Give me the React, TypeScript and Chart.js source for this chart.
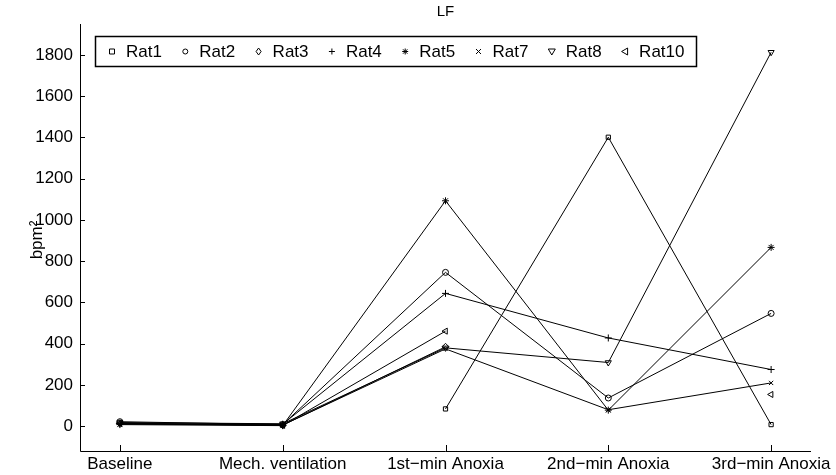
import React, { useEffect, useRef } from "react";
import { Chart, registerables } from "chart.js";

Chart.register(...registerables);

const categories = ["Baseline", "Mech. ventilation", "1st\u2212min Anoxia", "2nd\u2212min Anoxia", "3rd\u2212min Anoxia"];
const yTickValues = [0, 200, 400, 600, 800, 1000, 1200, 1400, 1600, 1800];

const rat1 = [null, null, 84, 1401, 8];
const rat2 = [22, 8, 746, 137, 547];
const rat3 = [15, 5, 385, null, null];
const rat4 = [12, 10, 644, 428, 275];
const rat5 = [8, 3, 1093, 78, 867];
const rat7 = [10, 6, 375, 80, 210];
const rat8 = [18, 12, 380, 309, 1813];
const rat10 = [14, 4, 461, null, 154];

const seriesNames = ["Rat1", "Rat2", "Rat3", "Rat4", "Rat5", "Rat7", "Rat8", "Rat10"];
const seriesValues = [rat1, rat2, rat3, rat4, rat5, rat7, rat8, rat10];
const markers = ["rect", "circle", "rectRot", "cross", "star", "crossRot", "triangle", "triangle"];
const rotations = [0, 0, 0, 0, 0, 0, 180, -90];
const radii = [3, 3, 3.5, 3.5, 3.5, 3, 3.5, 3.5];

const FONT = "'Liberation Sans', Arial, Helvetica, sans-serif";

function drawMarker(ctx: CanvasRenderingContext2D, kind: number, x: number, y: number) {
  ctx.beginPath();
  const r = 2.5;
  switch (kind) {
    case 0:
      ctx.rect(x - r, y - r, 2 * r, 2 * r);
      break;
    case 1:
      ctx.arc(x, y, r, 0, Math.PI * 2);
      break;
    case 2:
      ctx.moveTo(x, y - 3.5); ctx.lineTo(x + 2.5, y); ctx.lineTo(x, y + 3.5); ctx.lineTo(x - 2.5, y); ctx.closePath();
      break;
    case 3:
      ctx.moveTo(x - 3, y); ctx.lineTo(x + 3, y); ctx.moveTo(x, y - 3); ctx.lineTo(x, y + 3);
      break;
    case 4:
      ctx.moveTo(x - 3, y); ctx.lineTo(x + 3, y); ctx.moveTo(x, y - 3); ctx.lineTo(x, y + 3);
      ctx.moveTo(x - 2.2, y - 2.2); ctx.lineTo(x + 2.2, y + 2.2); ctx.moveTo(x - 2.2, y + 2.2); ctx.lineTo(x + 2.2, y - 2.2);
      break;
    case 5:
      ctx.moveTo(x - 2.5, y - 2.5); ctx.lineTo(x + 2.5, y + 2.5); ctx.moveTo(x - 2.5, y + 2.5); ctx.lineTo(x + 2.5, y - 2.5);
      break;
    case 6:
      ctx.moveTo(x - 3.5, y - 2.5); ctx.lineTo(x + 3.5, y - 2.5); ctx.lineTo(x, y + 3.5); ctx.closePath();
      break;
    case 7:
      ctx.moveTo(x + 2.5, y - 3.5); ctx.lineTo(x + 2.5, y + 3.5); ctx.lineTo(x - 3.5, y); ctx.closePath();
      break;
  }
  ctx.stroke();
}

const matlabPlugin = {
  id: "matlabDecor",
  afterDraw(chart: any) {
    const ctx: CanvasRenderingContext2D = chart.ctx;
    const { left, right, top, bottom } = chart.chartArea;
    const xs = chart.scales.x;
    const ys = chart.scales.y;
    ctx.save();
    ctx.strokeStyle = "#000";
    ctx.lineWidth = 1;
    // axes lines
    ctx.beginPath();
    ctx.moveTo(Math.round(left) + 0.5, top);
    ctx.lineTo(Math.round(left) + 0.5, Math.round(bottom) + 0.5);
    ctx.lineTo(right, Math.round(bottom) + 0.5);
    ctx.stroke();
    // inward ticks
    ctx.beginPath();
    yTickValues.forEach((v) => {
      const py = Math.round(ys.getPixelForValue(v)) + 0.5;
      ctx.moveTo(left, py);
      ctx.lineTo(left + 5, py);
    });
    categories.forEach((_, i) => {
      const px = Math.round(xs.getPixelForValue(i)) + 0.5;
      ctx.moveTo(px, bottom);
      ctx.lineTo(px, bottom - 6);
    });
    ctx.stroke();
    // title
    ctx.fillStyle = "#000";
    ctx.font = `15px ${FONT}`;
    ctx.textAlign = "center";
    ctx.textBaseline = "middle";
    ctx.fillText("LF", (left + right) / 2, 12);
    // y title
    ctx.save();
    ctx.translate(37, 240);
    ctx.rotate(-Math.PI / 2);
    ctx.font = `17px ${FONT}`;
    ctx.fillText("bpm\u00B2", 0, 0);
    ctx.restore();
    // legend
    const bx = 95.5, by = 36.5, bw = 601, bh = 30;
    ctx.fillStyle = "#fff";
    ctx.fillRect(bx, by, bw, bh);
    ctx.lineWidth = 1.5;
    ctx.strokeRect(bx, by, bw, bh);
    ctx.lineWidth = 1;
    ctx.font = `17px ${FONT}`;
    ctx.textAlign = "left";
    ctx.fillStyle = "#000";
    const cy = by + bh / 2;
    seriesNames.forEach((name, i) => {
      const mx = 112 + i * 73.3;
      drawMarker(ctx, i, mx, cy);
      ctx.fillText(name, mx + 14, cy + 1);
    });
    ctx.restore();
  },
};

export default function App() {
  const ref = useRef<HTMLCanvasElement | null>(null);
  useEffect(() => {
    if (!ref.current) return;
    const datasets = seriesNames.map((name, i) => ({
      label: name,
      data: seriesValues[i].map((v, j) => ({ x: j, y: v })),
      borderColor: "#000",
      borderWidth: 1,
      backgroundColor: "transparent",
      pointStyle: markers[i] as any,
      pointRotation: rotations[i],
      pointRadius: radii[i],
      pointBorderColor: "#000",
      pointBackgroundColor: "transparent",
      pointBorderWidth: 1,
      spanGaps: false,
      tension: 0,
    }));
    const chart = new Chart(ref.current, {
      type: "line",
      data: { datasets },
      plugins: [matlabPlugin],
      options: {
        animation: false,
        responsive: false,
        devicePixelRatio: 1,
        layout: { padding: { top: 24, right: 25, left: 0, bottom: 0 } },
        plugins: { legend: { display: false }, tooltip: { enabled: false }, title: { display: false } },
        scales: {
          x: {
            type: "linear",
            min: -0.245,
            max: 4.245,
            grid: { display: false, drawTicks: false },
            border: { display: false },
            afterBuildTicks: (s: any) => { s.ticks = categories.map((_, i) => ({ value: i })); },
            afterFit: (s: any) => { s.height = 24; },
            ticks: {
              autoSkip: false,
              maxRotation: 0,
              padding: 3,
              color: "#000",
              font: { family: FONT, size: 17 },
              callback: (v: any) => categories[Number(v)] ?? "",
            },
          },
          y: {
            type: "linear",
            min: -120,
            max: 1950,
            grid: { display: false, drawTicks: false },
            border: { display: false },
            afterBuildTicks: (s: any) => { s.ticks = yTickValues.map((v) => ({ value: v })); },
            afterFit: (s: any) => { s.width = 80; },
            ticks: {
              padding: 7,
              color: "#000",
              font: { family: FONT, size: 17 },
              callback: (v: any) => String(v),
            },
          },
        },
      },
    });
    return () => chart.destroy();
  }, []);
  return (
    <div style={{ position: "fixed", left: 0, top: 0, width: 836, height: 475, background: "#fff" }}>
      <canvas ref={ref} width={836} height={475} style={{ width: 836, height: 475 }} />
    </div>
  );
}
